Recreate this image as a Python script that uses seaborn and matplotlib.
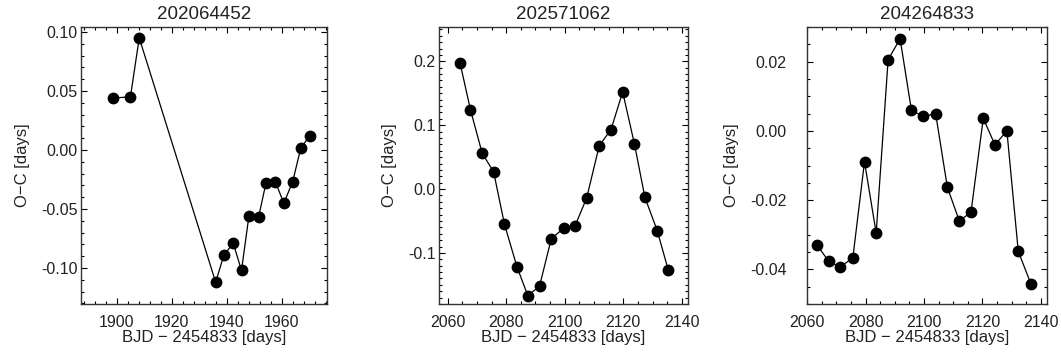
import numpy as np
import matplotlib
matplotlib.use("Agg")
import matplotlib.pyplot as plt
from matplotlib.ticker import MultipleLocator, FormatStrFormatter
import seaborn as sns

# --- data: BJD - 2454833 and O-C (days) per star ---
titles = ["202064452", "202571062", "204264833"]

t1 = [1898.5, 1905.0, 1908.2, 1936.0, 1939.0, 1942.4, 1945.4, 1948.1,
      1951.6, 1954.3, 1957.7, 1960.8, 1964.0, 1967.0, 1970.3]
oc1 = [0.044, 0.045, 0.095, -0.112, -0.089, -0.079, -0.102, -0.056,
       -0.057, -0.028, -0.027, -0.045, -0.027, 0.002, 0.012]

t2 = [2064.2, 2067.8, 2071.8, 2075.7, 2079.4, 2083.7, 2087.4, 2091.4,
      2095.4, 2099.7, 2103.5, 2107.5, 2111.8, 2115.8, 2119.8, 2123.8,
      2127.4, 2131.6, 2135.4]
oc2 = [0.198, 0.124, 0.056, 0.027, -0.055, -0.122, -0.167, -0.152,
       -0.078, -0.061, -0.058, -0.014, 0.068, 0.093, 0.152, 0.071,
       -0.013, -0.065, -0.127]

t3 = [2063.3, 2067.4, 2071.2, 2075.6, 2079.6, 2083.6, 2087.7, 2091.8,
      2095.7, 2099.8, 2104.0, 2108.0, 2112.1, 2116.1, 2120.3, 2124.3,
      2128.4, 2132.3, 2136.6]
oc3 = [-0.033, -0.0377, -0.0393, -0.0367, -0.0089, -0.0295, 0.0206, 0.0266,
       0.0059, 0.0042, 0.0049, -0.0163, -0.026, -0.0235, 0.0036, -0.004,
       0.0, -0.0348, -0.0441]

xlims = [(1887, 1976.5), (2057.2, 2142), (2060, 2142)]
ylims = [(-0.1305, 0.1042), (-0.180, 0.2537), (-0.05, 0.03)]
xmaj, xmin = [20, 20, 20], [4, 5, 5]
ymaj, ymin = [0.05, 0.1, 0.02], [0.01, 0.01, 0.005]
yfmt = ["%.2f", "%.1f", "%.2f"]
ypad = [2.5, 2.5, 15]

sns.set_style("ticks")
plt.rcParams["font.family"] = ["Liberation Sans", "DejaVu Sans"]
plt.rcParams["axes.unicode_minus"] = True

fig = plt.figure(figsize=(10.61, 3.54), dpi=100)
positions = [[0.0763, 0.1412, 0.2319, 0.7825],
             [0.4142, 0.1412, 0.2339, 0.7825],
             [0.7609, 0.1412, 0.2255, 0.7825]]

for i, (t, oc) in enumerate([(t1, oc1), (t2, oc2), (t3, oc3)]):
    ax = fig.add_axes(positions[i])
    sns.lineplot(x=t, y=oc, ax=ax, color="black", lw=0.9, sort=False,
                 marker="o", markersize=8.5, markeredgewidth=0,
                 markerfacecolor="black")
    ax.set_xlim(*xlims[i])
    ax.set_ylim(*ylims[i])
    ax.xaxis.set_major_locator(MultipleLocator(xmaj[i]))
    ax.xaxis.set_minor_locator(MultipleLocator(xmin[i]))
    ax.yaxis.set_major_locator(MultipleLocator(ymaj[i]))
    ax.yaxis.set_minor_locator(MultipleLocator(ymin[i]))
    ax.yaxis.set_major_formatter(FormatStrFormatter(yfmt[i]))
    ax.tick_params(which="both", direction="in", top=True, right=True,
                   labelsize=11.5, colors="black", labelcolor="#222222")
    ax.tick_params(which="major", length=4.5, width=0.8)
    ax.tick_params(which="minor", length=2.2, width=0.8)
    ax.tick_params(axis="x", which="major", pad=8)
    ax.tick_params(axis="y", which="major", pad=ypad[i])
    for s in ax.spines.values():
        s.set_linewidth(1.0)
        s.set_color("#333333")
    ax.set_title(titles[i], fontsize=13.5, color="#222222", pad=6)
    ax.set_xlabel("BJD \u2212 2454833 [days]", fontsize=12, color="#222222", labelpad=0)
    ax.set_ylabel("O\u2212C [days]", fontsize=12, color="#222222", labelpad=8)

fig.savefig("out.png", dpi=100)
